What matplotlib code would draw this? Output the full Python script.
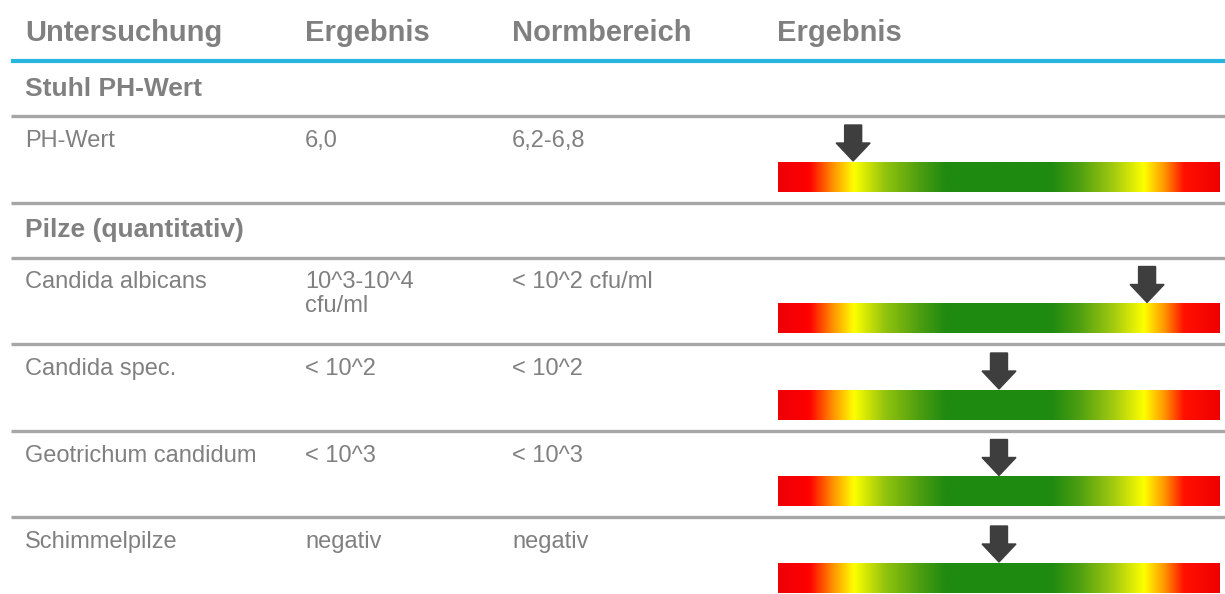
import matplotlib
matplotlib.use("Agg")
import matplotlib.pyplot as plt
import numpy as np
from matplotlib.colors import LinearSegmentedColormap
from matplotlib.patches import Polygon

plt.rcParams['font.family'] = ['Liberation Sans', 'DejaVu Sans']

# ---- data ----
headers = ["Untersuchung", "Ergebnis", "Normbereich", "Ergebnis"]
sections = ["Stuhl PH-Wert", "Pilze (quantitativ)"]
section_of_row = [0, 1, 1, 1, 1]
tests = ["PH-Wert", "Candida albicans", "Candida spec.", "Geotrichum candidum", "Schimmelpilze"]
results = ["6,0", "10^3-10^4\ncfu/ml", "< 10^2", "< 10^3", "negativ"]
norms = ["6,2-6,8", "< 10^2 cfu/ml", "< 10^2", "< 10^3", "negativ"]
marker_pos = [0.17, 0.835, 0.5, 0.5, 0.5]   # position of arrow on the scale (0..1)

# gradient stops of the rating scale
grad_stops = [0.00, 0.07, 0.12, 0.17, 0.24, 0.32, 0.38, 0.62, 0.68, 0.76, 0.83, 0.875, 0.92, 1.00]
grad_colors = ["#EE0008", "#FF0000", "#FF8A00", "#FFFF00", "#94C40E", "#4C9E10", "#1F8A10",
               "#1F8A10", "#4C9E10", "#A2CA10", "#FFFF00", "#FF9800", "#FF1000", "#F00000"]

# ---- layout (pixels) ----
W, H = 1225, 594
col_x = [25, 305, 512, 777]
bar_x0, bar_x1 = 778, 1220
header_base = 41
blue_y = 61
section_h = 55
row_h = 86.5
text_col = "#808080"
line_col = "#A6A6A6"

fig = plt.figure(figsize=(W / 100, H / 100), dpi=100)
ax = fig.add_axes([0, 0, 1, 1])
ax.set_xlim(0, W)
ax.set_ylim(H, 0)
ax.axis('off')

cmap = LinearSegmentedColormap.from_list("scale", list(zip(grad_stops, grad_colors)))
grad = np.linspace(0, 1, 512)[None, :]

for x, h in zip(col_x, headers):
    ax.text(x, header_base, h, fontsize=21, fontweight='bold', color=text_col, va='baseline', ha='left')
ax.plot([11, W], [blue_y, blue_y], color="#27B6E0", lw=3, solid_capstyle='butt')

y = blue_y
prev_sec = None
for i, test in enumerate(tests):
    sec = section_of_row[i]
    if sec != prev_sec:
        ax.text(col_x[0], y + 34.5, sections[sec], fontsize=19, fontweight='bold', color=text_col, va='baseline')
        y += section_h
        ax.plot([11, W], [y, y], color=line_col, lw=2.4, solid_capstyle='butt')
        prev_sec = sec
    base = y + 31
    ax.text(col_x[0], base, test, fontsize=17, color=text_col, va='baseline')
    for cx, val in ((col_x[1], results[i]), (col_x[2], norms[i])):
        for k, ln in enumerate(val.split("\n")):
            ax.text(cx, base + 23.5 * k, ln, fontsize=17, color=text_col, va='baseline')
    bar_top = y + 46
    bar_bot = y + 76
    ax.imshow(grad, cmap=cmap, extent=[bar_x0, bar_x1, bar_bot, bar_top], aspect='auto',
              interpolation='bilinear', zorder=2)
    tip_x = bar_x0 + marker_pos[i] * (bar_x1 - bar_x0)
    tip_y = bar_top - 1
    sw, hw, hl, L = 8.5, 17, 18, 36
    arrow = Polygon([(tip_x - sw, tip_y - L), (tip_x + sw, tip_y - L), (tip_x + sw, tip_y - hl),
                     (tip_x + hw, tip_y - hl), (tip_x, tip_y), (tip_x - hw, tip_y - hl),
                     (tip_x - sw, tip_y - hl)], closed=True, color="#3E3E3E", zorder=3)
    ax.add_patch(arrow)
    y += row_h
    if i < len(tests) - 1:
        ax.plot([11, W], [y, y], color=line_col, lw=2.4, solid_capstyle='butt')

ax.set_xlim(0, W)
ax.set_ylim(H, 0)
fig.savefig("out.png", dpi=100)
